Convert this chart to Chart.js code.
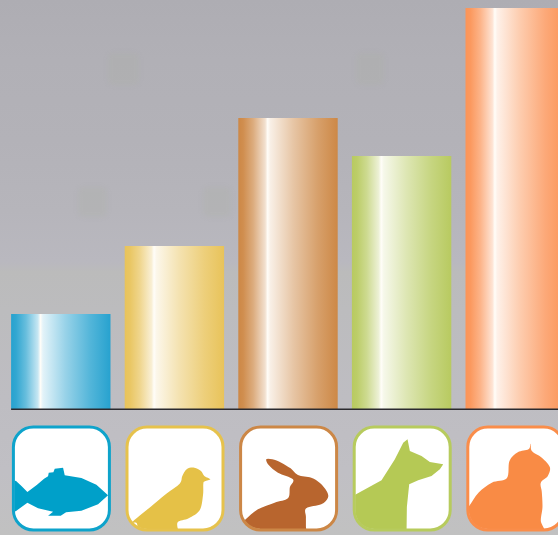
<!DOCTYPE html>
<html>
<head>
<meta charset="utf-8">
<script src="https://cdn.jsdelivr.net/npm/chart.js@4"></script>
<style>
  html, body { margin: 0; width: 558px; height: 535px; overflow: hidden; }
  body {
    background: linear-gradient(180deg,
      #aeadb3 0px, #b1b0b6 60px, #b3b2b8 140px, #b6b5bb 210px, #b9b8bf 262px,
      #bbbbbb 272px, #bcbcbe 310px, #bebdc2 400px, #c0bfc4 470px, #c1c1c1 535px);
  }
  canvas { display: block; }
</style>
</head>
<body>
<canvas id="pets" width="572" height="535"></canvas>
<script>
const categories = ['Fish', 'Birds', 'Rabbits', 'Dogs', 'Cats'];
const counts = [95, 163, 291, 253, 401];
const barColors = ['#27a2cf', '#e8c35a', '#cd8846', '#b8ca60', '#fb9457'];
const tileColors = ['#0ea3cb', '#e6c24c', '#cc8746', '#b7cb5d', '#fa8d4a'];
const iconColors = ['#00a0c9', '#e5c147', '#b8652e', '#b5c955', '#f98b45'];

const barShare = 0.875;

// Animal silhouettes, in thirds of a pixel from each tile's top-left corner.
const silhouettes = [
  [[-6,158],[8,162],[25,178],[42,195],[70,174],[92,155],[104,148],[106,137],[120,136],[124,125],
   [149,122],[154,145],[204,153],[249,173],[284,205],[254,232],[204,251],[158,256],[142,266],[104,266],
   [119,254],[74,244],[42,227],[8,252],[-6,258]],
  [[250,157],[232,147],[222,132],[202,122],[180,126],[166,147],[158,170],[118,200],[58,250],[16,286],
   [30,290],[38,340],[60,340],[100,340],[138,340],[140,316],[154,316],[152,286],[185,274],[218,250],
   [228,205],[229,170],[234,163]],
  [[77,97],[95,97],[122,107],[150,124],[172,144],[212,152],[238,168],[258,192],[262,212],[242,232],
   [197,244],[196,270],[196,300],[196,345],[100,345],[-30,345],[-20,310],[12,280],[52,247],[102,227],
   [142,214],[148,180],[157,157],[112,137],[85,115]],
  [[160,37],[167,72],[202,87],[227,105],[267,112],[257,127],[232,147],[192,160],[165,172],[158,240],[157,316],
   [-4,316],[-4,207],[82,160],[122,97],[147,47]],
  [[189,50],[192,72],[222,92],[246,120],[240,147],[219,167],[222,195],[224,240],[219,280],[218,345],
   [-30,345],[-30,280],[2,240],[32,197],[72,167],[117,154],[125,102],[150,76],[182,67]]
];
const smoothOutline = [false, true, true, false, true];

// Soft smudges that sit in the backdrop behind the bars.
const smudges = [[108, 53, 31, 32], [356, 53, 28, 32], [78, 187, 29, 30], [203, 187, 28, 30]];

const tile = { top: 427, width: 96, height: 103, radius: 20, border: 3 };

function tint(hex, amount) {
  const n = parseInt(hex.slice(1), 16);
  const mix = c => Math.round(c + (255 - c) * amount);
  return `rgb(${mix(n >> 16)},${mix((n >> 8) & 255)},${mix(n & 255)})`;
}

// Metallic sheen: a hard highlight about a third of the way across each bar.
const sheen = {
  id: 'sheen',
  afterLayout(chart) {
    const x = chart.scales.x;
    const w = (x.width / categories.length) * barShare;
    chart.data.datasets[0].backgroundColor = barColors.map((color, i) => {
      const cx = x.getPixelForValue(i);
      const g = chart.ctx.createLinearGradient(cx - w / 2, 0, cx + w / 2, 0);
      g.addColorStop(0, color);
      g.addColorStop(0.05, tint(color, 0.05));
      g.addColorStop(0.15, tint(color, 0.3));
      g.addColorStop(0.27, tint(color, 0.74));
      g.addColorStop(0.295, '#fffdf8');
      g.addColorStop(0.32, tint(color, 0.87));
      g.addColorStop(0.55, tint(color, 0.52));
      g.addColorStop(0.8, tint(color, 0.2));
      g.addColorStop(1, color);
      return g;
    });
  }
};

const backdrop = {
  id: 'backdrop',
  beforeDraw(chart) {
    const ctx = chart.ctx;
    ctx.save();
    ctx.filter = 'blur(2px)';
    ctx.fillStyle = 'rgba(172,174,158,0.2)';
    smudges.forEach(([x, y, w, h]) => {
      ctx.beginPath();
      ctx.roundRect(x, y, w, h, 5);
      ctx.fill();
    });
    ctx.restore();
  }
};

function roundedTile(ctx, left, inset) {
  ctx.beginPath();
  ctx.roundRect(left + inset, tile.top + inset, tile.width - inset * 2, tile.height - inset * 2,
    tile.radius - inset);
}

// Traces an outline, either straight-edged or as a closed Catmull-Rom curve.
function traceOutline(ctx, points, smooth) {
  const n = points.length;
  ctx.beginPath();
  ctx.moveTo(points[0][0], points[0][1]);
  for (let k = 0; k < n; k++) {
    const p0 = points[(k - 1 + n) % n], p1 = points[k];
    const p2 = points[(k + 1) % n], p3 = points[(k + 2) % n];
    if (smooth) {
      ctx.bezierCurveTo(
        p1[0] + (p2[0] - p0[0]) / 6, p1[1] + (p2[1] - p0[1]) / 6,
        p2[0] - (p3[0] - p1[0]) / 6, p2[1] - (p3[1] - p1[1]) / 6,
        p2[0], p2[1]);
    } else {
      ctx.lineTo(p2[0], p2[1]);
    }
  }
  ctx.closePath();
}

// Baseline under the bars plus the row of picture tiles beneath it.
const baselineAndTiles = {
  id: 'baselineAndTiles',
  afterDatasetsDraw(chart) {
    const { ctx, scales: { x, y } } = chart;
    const step = x.width / categories.length;
    const zero = y.getPixelForValue(0);
    ctx.save();
    ctx.strokeStyle = '#2b2a2f';
    ctx.lineWidth = 1.6;
    ctx.beginPath();
    ctx.moveTo(x.getPixelForValue(0) - step * barShare / 2, zero + 0.3);
    ctx.lineTo(chart.width, zero + 0.3);
    ctx.stroke();

    categories.forEach((_, i) => {
      const left = x.getPixelForValue(i) + 0.6 - tile.width / 2;
      ctx.save();
      roundedTile(ctx, left, 0);
      ctx.fillStyle = '#ffffff';
      ctx.fill();
      roundedTile(ctx, left, 1);
      ctx.clip();
      ctx.filter = 'blur(0.7px)';
      ctx.fillStyle = iconColors[i];
      const placed = silhouettes[i].map(([px, py]) => [left + px / 3, tile.top + py / 3]);
      traceOutline(ctx, placed, smoothOutline[i]);
      ctx.fill();
      ctx.restore();

      roundedTile(ctx, left, 0);
      ctx.strokeStyle = tileColors[i];
      ctx.lineWidth = tile.border;
      ctx.stroke();
    });
    ctx.restore();
  }
};

new Chart(document.getElementById('pets'), {
  type: 'bar',
  data: {
    labels: categories,
    datasets: [{ data: counts, backgroundColor: barColors, borderWidth: 0 }]
  },
  options: {
    responsive: false,
    animation: false,
    layout: { padding: { left: 4, right: 0, top: 0, bottom: 126 } },
    datasets: { bar: { barPercentage: barShare, categoryPercentage: 1 } },
    scales: {
      x: { display: false },
      y: { display: false, min: 0, max: 409 }
    },
    plugins: { legend: { display: false }, tooltip: { enabled: false } }
  },
  plugins: [sheen, backdrop, baselineAndTiles]
});
</script>
</body>
</html>
